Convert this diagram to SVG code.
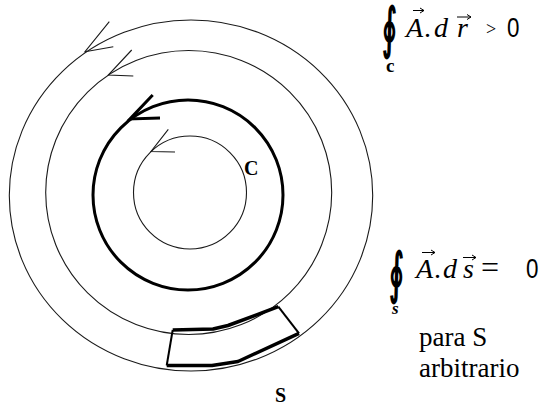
<svg xmlns="http://www.w3.org/2000/svg" width="543" height="410" viewBox="0 0 543 410">
<style>
.thin{fill:none;stroke:#1a1a1a;stroke-width:1.1}
.thick{fill:none;stroke:#000;stroke-width:3}
.edge{fill:none;stroke:#000;stroke-width:2;stroke-linejoin:round}
.edgeb{fill:none;stroke:#000;stroke-width:3.5;stroke-linejoin:round}
.ser{font-family:"Liberation Serif","Times New Roman",serif;fill:#000}
.it{font-style:italic}
.intg{font-family:"DejaVu Serif",serif;font-weight:bold;fill:#000}
.vec{fill:none;stroke:#000;stroke-width:1}
</style>
<rect width="543" height="410" fill="#fff"/>
<g id="circles">
  <ellipse id="outer" class="thin" cx="191" cy="195.5" rx="181.7" ry="175.5"/>
  <ellipse id="second" class="thin" cx="188.7" cy="192.5" rx="143" ry="142"/>
  <circle id="curveC" class="thick" cx="188" cy="195" r="95"/>
  <circle id="inner" class="thin" cx="190" cy="192.5" r="56.5"/>
</g>
<g id="arrows">
  <polyline class="thin" points="109.3,21.7 85,51.7 113.3,46.7"/>
  <polyline class="thin" points="131.7,50 108.3,75 133.3,76"/>
  <polyline class="thick" points="152.7,95 130,119 160,118"/>
  <polyline class="thin" points="168.3,129.3 151,151.5 175,152"/>
</g>
<g id="surfaceS">
  <polyline class="edgeb" points="172.7,330 213,329 228,325.5 278.3,306.7"/>
  <polyline class="edge" points="278.3,306.7 299,333.3"/>
  <polyline class="edgeb" points="299,333.3 238,361.5 212,365.5 166.7,365.5"/>
  <polyline class="edge" points="166.7,365.5 172.7,330"/>
</g>
<g id="labels">
  <text class="ser" x="244" y="175" font-size="20" font-weight="bold">C</text>
  <text class="ser" x="275" y="402" font-size="20" font-weight="bold">S</text>
</g>
<g id="formula1">
  <text class="intg" font-size="48" transform="translate(382,47) scale(0.6,1.15)">∮</text>
  <text class="ser" x="386" y="72" font-size="19" font-weight="bold">c</text>
  <text class="ser it" x="406" y="37" font-size="28">A</text>
  <text class="ser" x="424" y="37" font-size="28">.</text>
  <text class="ser it" x="434" y="37" font-size="28">d</text>
  <text class="ser it" x="457" y="37" font-size="28">r</text>
  <text class="ser" x="486" y="35" font-size="18">&gt;</text>
  <text x="507" y="37" font-size="28" font-family="Liberation Sans,Arial,sans-serif" transform="translate(507,37) scale(0.8,1) translate(-507,-37)">0</text>
  <path class="vec" d="M413,10.5H424M420,8L424,10.5L420,13"/>
  <path class="vec" d="M457,17H471M467,14.5L471,17L467,19.5"/>
</g>
<g id="formula2">
  <text class="intg" font-size="48" transform="translate(389,292) scale(0.6,1.15)">∮</text>
  <text class="ser it" x="392" y="314" font-size="17" font-weight="bold">s</text>
  <text class="ser it" x="416" y="278" font-size="28">A</text>
  <text class="ser" x="434" y="278" font-size="28">.</text>
  <text class="ser it" x="443" y="278" font-size="28">d</text>
  <text class="ser it" x="463" y="278" font-size="28">s</text>
  <text class="ser" x="481" y="278" font-size="32">=</text>
  <text x="526" y="278" font-size="28" font-family="Liberation Sans,Arial,sans-serif" transform="translate(526,278) scale(0.8,1) translate(-526,-278)">0</text>
  <path class="vec" d="M422,252.5H435M431,250L435,252.5L431,255"/>
  <path class="vec" d="M463,257.5H476M472,255L476,257.5L472,260"/>
</g>
<g id="note">
  <text class="ser" x="419" y="346" font-size="27">para S</text>
  <text class="ser" x="419" y="377" font-size="27">arbitrario</text>
</g>
</svg>
